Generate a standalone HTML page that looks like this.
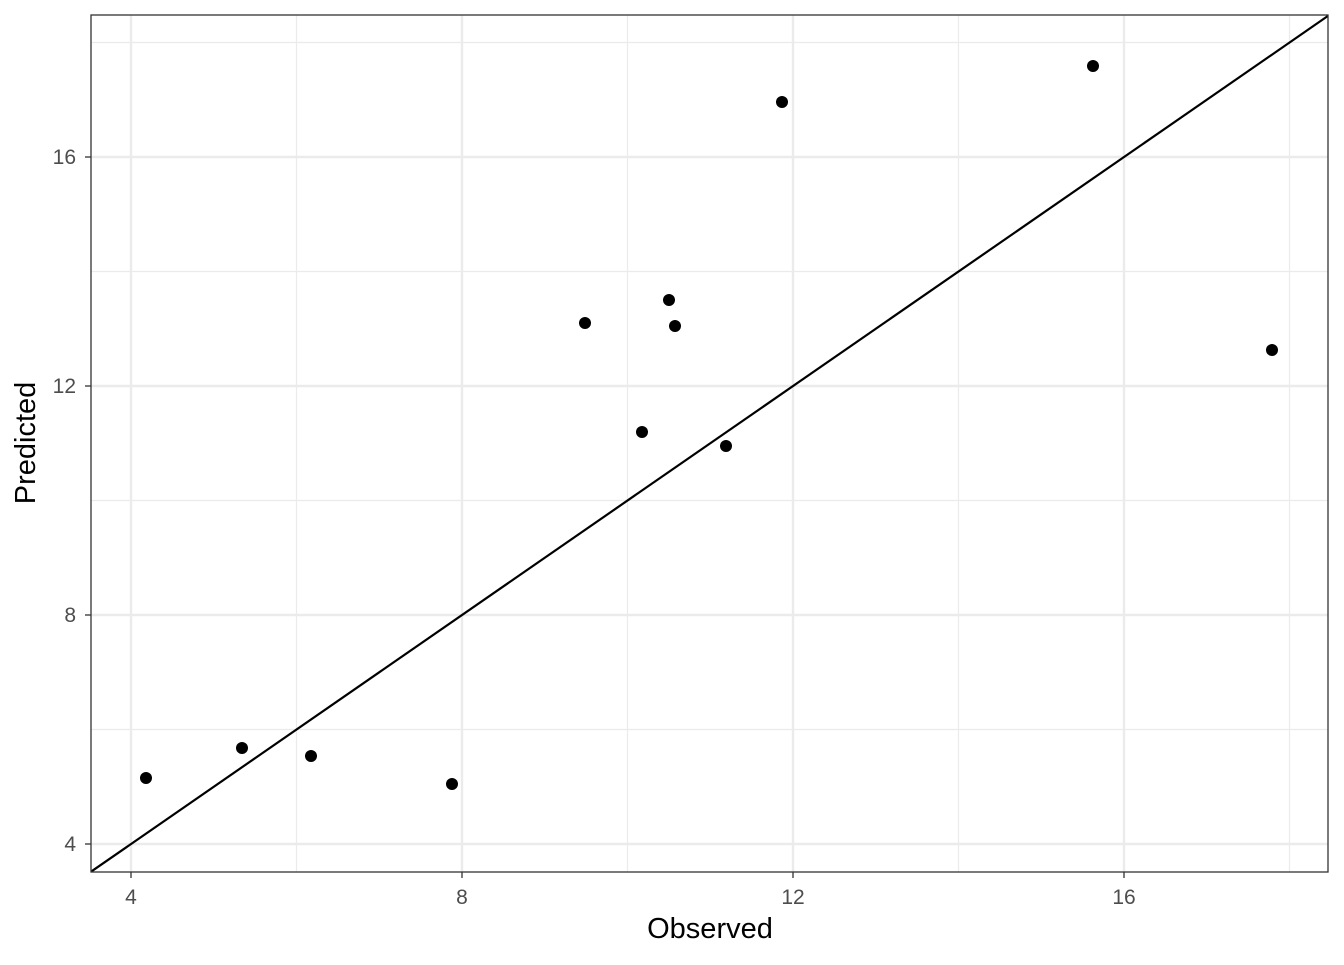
<!DOCTYPE html>
<html><head><meta charset="utf-8"><style>body{margin:0;background:#fff}</style></head><body>
<svg width="1344" height="960" xmlns="http://www.w3.org/2000/svg" font-family="Liberation Sans, sans-serif">
<rect width="1344" height="960" fill="#fff"/>
<g stroke="#ebebeb" stroke-width="1.2">
<line x1="296.5" y1="15" x2="296.5" y2="872"/><line x1="627.5" y1="15" x2="627.5" y2="872"/><line x1="958.5" y1="15" x2="958.5" y2="872"/><line x1="1289.5" y1="15" x2="1289.5" y2="872"/>
<line x1="91" y1="42.5" x2="1328" y2="42.5"/><line x1="91" y1="271.5" x2="1328" y2="271.5"/><line x1="91" y1="500.5" x2="1328" y2="500.5"/><line x1="91" y1="729.5" x2="1328" y2="729.5"/>
</g>
<g stroke="#ebebeb" stroke-width="2.4">
<line x1="131" y1="15" x2="131" y2="872"/><line x1="462" y1="15" x2="462" y2="872"/><line x1="793" y1="15" x2="793" y2="872"/><line x1="1124" y1="15" x2="1124" y2="872"/>
<line x1="91" y1="157" x2="1328" y2="157"/><line x1="91" y1="386" x2="1328" y2="386"/><line x1="91" y1="615" x2="1328" y2="615"/><line x1="91" y1="844" x2="1328" y2="844"/>
</g>
<line x1="91" y1="871.7" x2="1328" y2="15.9" stroke="#000" stroke-width="2.2"/>
<g fill="#000">
<circle cx="146" cy="778" r="6"/><circle cx="242" cy="748" r="6"/><circle cx="311" cy="756" r="6"/><circle cx="452" cy="784" r="6"/><circle cx="585" cy="323" r="6"/><circle cx="642" cy="432" r="6"/><circle cx="669" cy="300" r="6"/><circle cx="675" cy="326" r="6"/><circle cx="726" cy="446" r="6"/><circle cx="782" cy="102" r="6"/><circle cx="1093" cy="66" r="6"/><circle cx="1272" cy="350" r="6"/>
</g>
<rect x="91" y="15" width="1237" height="857" fill="none" stroke="#333" stroke-width="1.3"/>
<g stroke="#333" stroke-width="1.3">
<line x1="131" y1="872" x2="131" y2="878"/><line x1="462" y1="872" x2="462" y2="878"/><line x1="793" y1="872" x2="793" y2="878"/><line x1="1124" y1="872" x2="1124" y2="878"/>
<line x1="85" y1="157" x2="91" y2="157"/><line x1="85" y1="386" x2="91" y2="386"/><line x1="85" y1="615" x2="91" y2="615"/><line x1="85" y1="844" x2="91" y2="844"/>
</g>
<g fill="#4d4d4d" font-size="21" text-anchor="middle">
<text x="131" y="904">4</text><text x="462" y="904">8</text><text x="793" y="904">12</text><text x="1124" y="904">16</text>
</g>
<g fill="#4d4d4d" font-size="21" text-anchor="end">
<text x="76" y="164">16</text><text x="76" y="393">12</text><text x="76" y="622">8</text><text x="76" y="851">4</text>
</g>
<text x="710" y="938" font-size="29" text-anchor="middle" fill="#000">Observed</text>
<text transform="translate(35,443) rotate(-90)" font-size="29" text-anchor="middle" fill="#000">Predicted</text>
</svg>
</body></html>
